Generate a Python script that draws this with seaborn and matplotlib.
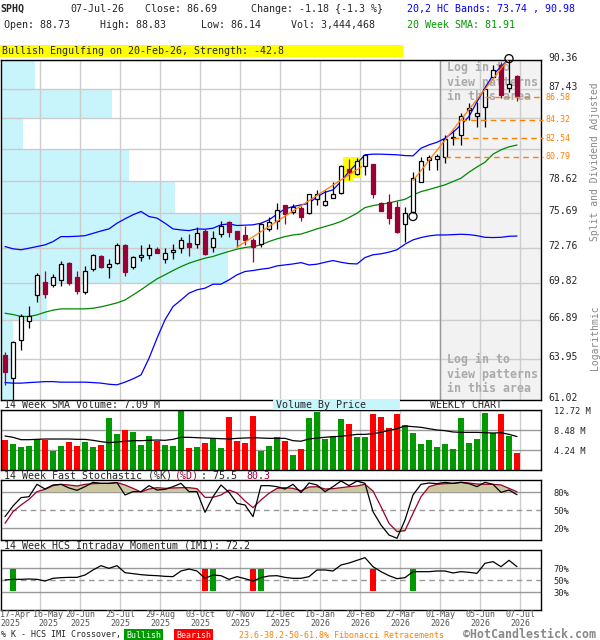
import numpy as np
import matplotlib
matplotlib.use("Agg")
import matplotlib.pyplot as plt
import matplotlib.transforms as mtransforms
from matplotlib.patches import Rectangle
from matplotlib.ticker import NullLocator
import seaborn as sns

# weekly candles, oldest first
opens = [64.28, 62.57, 65.38, 66.81, 68.89, 69.92, 69.65, 70.05, 71.49, 70.35,
         69.16, 70.97, 72.07, 71.13, 71.51, 72.99, 71.18, 71.96, 72.13, 72.68,
         71.79, 72.38, 72.71, 73.13, 73.10, 74.20, 72.83, 73.89, 74.93, 74.17,
         73.80, 73.38, 73.05, 74.32, 75.04, 76.41, 75.80, 76.14, 75.71, 76.96,
         76.47, 77.08, 77.47, 79.71, 79.20, 79.95, 80.11, 76.58, 76.72, 76.26,
         74.75, 75.80, 78.53, 80.48, 80.58, 80.74, 82.61, 82.86, 85.30, 84.71,
         85.56, 88.65, 89.84, 87.47, 88.73]
highs = [64.53, 65.33, 67.38, 68.02, 70.64, 70.83, 70.56, 71.65, 71.60, 70.83,
         71.24, 72.24, 72.16, 71.82, 73.13, 73.05, 72.07, 72.99, 73.07, 72.77,
         72.71, 73.05, 73.63, 73.89, 74.49, 74.32, 74.20, 75.04, 75.04, 74.20,
         74.64, 73.61, 74.84, 75.36, 76.61, 76.45, 76.52, 76.38, 77.44, 77.78,
         77.78, 78.53, 80.05, 80.58, 80.70, 81.02, 80.17, 76.72, 77.41, 76.81,
         76.29, 79.44, 80.83, 80.96, 81.08, 82.86, 83.35, 84.98, 86.02, 86.12,
         87.64, 89.84, 90.12, 90.46, 88.83]
lows = [62.10, 61.05, 64.61, 66.34, 68.36, 68.68, 69.51, 69.57, 69.65, 68.97,
        68.95, 70.86, 71.10, 70.29, 71.38, 70.38, 70.97, 71.63, 71.85, 72.30,
        71.46, 71.82, 72.27, 72.10, 72.71, 72.16, 72.43, 73.69, 73.69, 72.77,
        72.99, 71.60, 72.77, 74.20, 74.32, 74.81, 75.62, 74.99, 75.68, 76.44,
        76.35, 77.02, 77.40, 78.68, 79.14, 79.14, 77.02, 75.86, 74.75, 73.97,
        73.22, 75.71, 78.47, 79.58, 79.58, 80.27, 81.93, 81.87, 84.32, 83.67,
        83.67, 88.48, 86.45, 87.13, 86.14]
closes = [63.00, 65.23, 67.20, 67.20, 70.51, 69.00, 70.32, 71.38, 69.84, 69.22,
          70.81, 72.16, 71.15, 71.40, 72.99, 70.78, 71.96, 72.13, 72.71, 72.35,
          72.30, 72.55, 73.38, 72.77, 73.97, 72.19, 73.55, 74.58, 74.06, 73.47,
          73.41, 72.85, 74.75, 74.93, 75.97, 75.65, 76.29, 75.36, 77.38, 77.38,
          76.81, 77.38, 79.95, 79.38, 80.39, 80.96, 77.38, 75.94, 75.28, 74.11,
          75.77, 78.83, 80.45, 80.77, 80.89, 82.46, 82.71, 84.71, 85.47, 84.98,
          87.40, 89.33, 86.79, 87.87, 86.69]

# 20,2 HC bands and 20 week SMA
upper_band = [72.85, 72.66, 72.58, 72.71, 72.85, 72.99, 73.27, 73.69, 73.69, 73.72,
              73.77, 73.97, 74.17, 74.35, 74.84, 75.22, 75.57, 75.86, 75.42, 75.28,
              74.84, 74.35, 74.26, 74.20, 74.35, 74.32, 74.41, 74.70, 74.78, 74.64,
              74.67, 74.70, 74.84, 75.13, 75.62, 76.09, 76.29, 76.44, 76.58, 77.17,
              77.56, 77.78, 78.53, 79.44, 80.20, 80.99, 81.05, 81.05, 81.02, 80.99,
              80.92, 80.89, 81.61, 81.93, 82.17, 82.55, 83.12, 83.84, 84.65, 86.12,
              87.47, 88.82, 89.67, 90.47, 90.98]
lower_band = [62.26, 62.22, 62.22, 62.26, 62.29, 62.33, 62.33, 62.29, 62.29, 62.29,
              62.29, 62.26, 62.22, 62.14, 62.10, 62.29, 62.53, 62.81, 64.03, 65.53,
              66.94, 67.97, 68.49, 69.03, 69.30, 69.43, 69.75, 69.75, 70.10, 70.51,
              70.78, 70.86, 70.97, 71.05, 71.24, 71.32, 71.40, 71.51, 71.32, 71.38,
              71.54, 71.68, 71.54, 71.43, 71.40, 71.93, 72.16, 72.24, 72.38, 72.58,
              73.05, 73.41, 73.61, 73.75, 73.83, 73.83, 73.86, 73.89, 73.86, 73.77,
              73.63, 73.61, 73.63, 73.72, 73.74]
sma20 = [67.45, 67.35, 67.20, 67.20, 67.32, 67.53, 67.69, 67.79, 67.79, 67.79,
         67.79, 67.84, 67.95, 68.10, 68.26, 68.49, 68.89, 69.30, 69.75, 70.18,
         70.51, 70.86, 71.18, 71.46, 71.68, 71.88, 72.02, 72.24, 72.44, 72.63,
         72.77, 72.85, 72.99, 73.27, 73.50, 73.69, 73.83, 73.91, 74.12, 74.35,
         74.55, 74.75, 74.99, 75.33, 75.71, 76.20, 76.38, 76.49, 76.61, 76.78,
         76.93, 77.32, 77.62, 77.81, 78.02, 78.23, 78.53, 78.83, 79.38, 79.86,
         80.30, 81.05, 81.46, 81.74, 81.91]

# weekly volume and 14 week SMA, millions
volume = [6.36, 5.51, 4.88, 5.09, 6.50, 6.36, 4.10, 5.09, 5.94, 5.09,
          5.94, 4.88, 5.30, 11.02, 7.63, 8.48, 8.06, 5.30, 7.21, 6.22,
          5.30, 5.09, 12.58, 4.66, 4.88, 5.72, 6.78, 4.66, 11.24, 6.15,
          5.72, 11.45, 4.10, 5.09, 7.00, 6.15, 3.18, 4.45, 11.02, 12.30,
          6.64, 7.14, 10.81, 9.75, 7.00, 7.07, 11.87, 11.24, 8.90, 11.87,
          9.54, 7.84, 5.51, 6.36, 4.88, 5.51, 4.45, 11.02, 5.72, 6.57,
          12.08, 7.84, 11.87, 7.21, 3.60]
vol_sma = [7.21, 6.93, 6.43, 6.43, 6.50, 6.57, 6.57, 6.57, 6.57, 6.50,
           6.50, 6.29, 6.01, 5.80, 5.94, 6.08, 6.22, 6.22, 6.29, 6.36,
           6.29, 6.50, 6.93, 6.93, 6.85, 6.78, 6.71, 6.64, 6.57, 6.71,
           6.78, 6.85, 6.78, 6.71, 6.71, 6.71, 6.22, 6.10, 6.57, 6.78,
           6.93, 7.07, 7.14, 7.35, 7.56, 7.56, 7.70, 7.98, 8.41, 8.76,
           9.33, 9.19, 9.05, 8.76, 8.48, 8.34, 8.06, 7.98, 7.98, 7.98,
           7.91, 7.84, 7.91, 7.56, 7.09]

# 14 week fast stochastic
stoch_k = [38.9, 56.7, 70.6, 72.2, 92.8, 85.0, 91.7, 92.8, 86.7, 82.8,
           88.9, 96.1, 94.4, 94.4, 95.6, 75.0, 80.6, 80.6, 90.6, 83.3,
           84.4, 88.9, 94.4, 80.6, 80.6, 46.1, 72.2, 91.7, 79.4, 61.1,
           58.3, 38.9, 90.6, 90.6, 88.9, 85.0, 92.8, 79.0, 95.0, 91.7,
           80.6, 88.9, 98.3, 90.6, 98.3, 94.4, 47.2, 25.0, 8.3, 2.8,
           33.3, 75.0, 92.8, 95.0, 93.9, 96.1, 94.4, 96.1, 93.9, 88.9,
           96.1, 92.8, 79.4, 83.3, 75.5]
stoch_d = [27.8, 47.2, 58.3, 67.8, 80.6, 84.4, 90.6, 92.8, 91.7, 90.0,
           92.8, 93.9, 94.4, 94.4, 95.6, 91.7, 86.1, 80.0, 85.0, 87.2,
           86.1, 86.7, 87.2, 87.2, 85.6, 71.1, 71.1, 75.0, 83.3, 78.3,
           65.0, 53.9, 66.7, 77.8, 86.1, 87.2, 86.1, 82.2, 88.3, 88.9,
           85.0, 85.6, 87.2, 88.9, 90.0, 92.8, 81.7, 55.6, 27.8, 13.9,
           15.6, 44.4, 72.2, 88.9, 92.8, 93.9, 94.4, 96.1, 95.0, 93.3,
           92.8, 92.8, 91.7, 86.1, 80.3]

# 14 week HCS intraday momentum and %K / IMI crossovers
imi = [50.0, 51.1, 51.1, 51.7, 51.1, 48.3, 52.8, 53.9, 54.4, 54.4,
       58.3, 66.7, 73.9, 69.4, 73.9, 62.2, 60.6, 58.9, 57.8, 57.2,
       56.1, 55.6, 65.0, 68.3, 65.0, 52.8, 58.3, 57.2, 51.1, 55.6,
       52.2, 48.3, 53.9, 56.7, 57.2, 54.4, 52.8, 52.8, 55.6, 66.7,
       66.7, 65.0, 75.0, 78.3, 82.8, 87.2, 72.2, 63.9, 57.2, 52.2,
       53.9, 63.9, 63.9, 63.9, 65.0, 65.0, 61.7, 63.9, 62.8, 61.1,
       77.8, 80.6, 72.2, 82.8, 72.2]
imi_bull_weeks = [1, 26, 32, 51]
imi_bear_weeks = [25, 31, 46]

# volume by price, one value per price band (bottom to top)
vbp_volume = [5, 5, 19, 94, 100, 72, 53, 9, 46, 14]

price_ticks = [61.02, 63.95, 66.89, 69.82, 72.76, 75.69, 78.62, 81.56, 84.49, 87.43, 90.36]
price_labels = ["61.02", "63.95", "66.89", "69.82", "72.76", "75.69", "78.62", "", "", "87.43", "90.36"]

fib_levels = [86.58, 84.32, 82.54, 80.79]
fib_start = [60, 57, 56, 55]

trend_lines = [((29, 44.6), (72.8, 79.9)), ((51, 63), (78.6, 90.5))]
circle_weeks = [51, 63]
circle_prices = [75.42, 90.5]
engulf_weeks = [42.9, 44.05]
engulf_low = [78.50, 78.84]
engulf_high = 80.80

date_labels = ["17-Apr\n2025", "16-May\n2025", "20-Jun\n2025", "25-Jul\n2025", "29-Aug\n2025",
               "03-Oct\n2025", "07-Nov\n2025", "12-Dec\n2025", "16-Jan\n2026", "20-Feb\n2026",
               "27-Mar\n2026", "01-May\n2026", "05-Jun\n2026", "07-Jul\n2026"]

MAROON = "#990033"
GREEN = "#009900"
RED = "#ff0000"
BLUE = "#0000ff"
SMA_GREEN = "#008800"
ORANGE = "#ff8000"
CYAN = "#c8f4fb"
GRID = "#cccccc"
DARKGRID = "#999999"

sns.set_theme(style="white")
plt.rcParams["font.family"] = ["DejaVu Sans Mono"]

weeks = np.arange(len(closes))
o = np.array(opens)
c = np.array(closes)
up = c >= o
x_lim = (-0.5, 67)
date_pos = np.arange(len(date_labels)) * 5 - 0.625
zone_start = date_pos[11]

fig = plt.figure(figsize=(6, 6.4), dpi=100)


def box(x0, y0, x1, y1):
    # pixel box with top-left origin -> figure rect
    return [x0 / 600, 1 - y1 / 640, (x1 - x0) / 600, (y1 - y0) / 640]


def ftext(x, y, s, **kw):
    kw.setdefault("va", "center")
    kw.setdefault("fontsize", 7.2)
    return fig.text(x / 600, 1 - y / 640, s, **kw)


def style_panel(a):
    a.set_xlim(*x_lim)
    a.set_xticks(date_pos[1:])
    a.tick_params(axis="both", length=0, labelbottom=False)
    a.grid(axis="x", color=GRID, lw=1)
    a.set_axisbelow(True)
    a.set_xlabel("")
    a.set_ylabel("")
    for sp in a.spines.values():
        sp.set_color("black")
        sp.set_linewidth(1)
    a.yaxis.tick_right()


# ---- main price panel ----
ax_vbp = fig.add_axes(box(1, 60, 541, 400))
ax_vbp.set_yscale("log")
ax_vbp.barh(price_ticks[:-1], vbp_volume, height=np.diff(price_ticks), align="edge",
            color=CYAN, lw=0)
ax_vbp.set_ylim(price_ticks[0], price_ticks[-1])
ax_vbp.set_xlim(0, 224)
ax_vbp.axis("off")

ax = fig.add_axes(box(1, 60, 541, 400))
ax.patch.set_alpha(0)
ax.set_yscale("log")
ax.axvspan(zone_start, x_lim[1], color="#f2f2f2", lw=0, zorder=0.1)
ax.axvline(zone_start, color="#999999", lw=1, zorder=0.6)

for y0, y_txt in [(67, "Log in to"), (82, "view patterns"), (97, "in this area"),
                  (359, "Log in to"), (374, "view patterns"), (389, "in this area")]:
    ax.text(447 / 600, 1 - y0 / 640, y_txt, transform=fig.transFigure, color="#aaaaaa",
            fontsize=8.4, fontweight="bold", va="center", zorder=1)

ax.bar(engulf_weeks, np.array(engulf_high) - np.array(engulf_low), bottom=engulf_low,
       width=[1.25, 1.1], color="#ffff00", lw=0, zorder=1.5)

sns.lineplot(x=weeks, y=upper_band, ax=ax, color=BLUE, lw=0.9, zorder=2)
sns.lineplot(x=weeks, y=lower_band, ax=ax, color=BLUE, lw=0.9, zorder=2)
sns.lineplot(x=weeks, y=sma20, ax=ax, color=SMA_GREEN, lw=0.9, zorder=2)

wick_cols = ["black" if u else MAROON for u in up]
body_face = ["white" if u else MAROON for u in up]
ax.vlines(weeks, lows, highs, colors=wick_cols, lw=0.9, zorder=3)
ax.bar(weeks, np.maximum(np.abs(c - o), 0.04), bottom=np.minimum(o, c), width=0.62,
       color=body_face, edgecolor=wick_cols, lw=0.9, zorder=4)

for (tx, ty) in trend_lines:
    ax.plot(tx, ty, color=ORANGE, lw=0.9, zorder=5)
ax.scatter(circle_weeks, circle_prices, s=34, facecolors="none", edgecolors="black",
           lw=0.9, zorder=6, clip_on=False)

ax.hlines(fib_levels, fib_start, x_lim[1] + 0.3, colors=ORANGE, linestyles=(0, (4, 3)),
          lw=1, zorder=5, clip_on=False)
fib_tr = mtransforms.blended_transform_factory(ax.transAxes, ax.transData)
for lvl in fib_levels:
    ax.text(1.008, lvl, f"{lvl:.2f}", transform=fib_tr, color=ORANGE, fontsize=6,
            va="center", ha="left")

style_panel(ax)
ax.set_ylim(price_ticks[0], price_ticks[-1])
ax.set_yticks(price_ticks)
ax.yaxis.set_minor_locator(NullLocator())
ax.set_yticklabels(price_labels, fontsize=7)
ax.tick_params(axis="y", pad=5)
ax.grid(axis="y", color=GRID, lw=1)

ftext(595, 162, "Split and Dividend Adjusted", rotation=90, ha="center", color="#888888",
      fontsize=7)
ftext(595, 338, "Logarithmic", rotation=90, ha="center", color="#888888", fontsize=7)

# ---- volume panel ----
ax_vol = fig.add_axes(box(1, 410, 541, 470))
ax_vol.bar(weeks, volume, width=0.75, color=[GREEN if u else RED for u in up], lw=0, zorder=2)
sns.lineplot(x=weeks, y=vol_sma, ax=ax_vol, color="black", lw=0.9, zorder=3)
style_panel(ax_vol)
ax_vol.set_ylim(0, 12.72)
ax_vol.set_yticks([4.24, 8.48, 12.72])
ax_vol.set_yticklabels(["4.24 M", "8.48 M", "12.72 M"], fontsize=6.3)
ax_vol.tick_params(axis="y", pad=9)
ax_vol.grid(axis="y", color=DARKGRID, lw=1)

# ---- stochastic panel ----
ax_sto = fig.add_axes(box(1, 480, 541, 540))
d = np.array(stoch_d)
ax_sto.fill_between(weeks, 80, d, where=d > 80, interpolate=True, color="#ccc89e", lw=0,
                    zorder=1)
ax_sto.fill_between(weeks, 20, d, where=d < 20, interpolate=True, color="#ccc89e", lw=0,
                    zorder=1)
ax_sto.axhline(80, color=DARKGRID, lw=1, zorder=0.8)
ax_sto.axhline(20, color=DARKGRID, lw=1, zorder=0.8)
ax_sto.axhline(50, color=DARKGRID, lw=1, ls=(0, (4, 3)), zorder=0.8)
sns.lineplot(x=weeks, y=stoch_d, ax=ax_sto, color=MAROON, lw=0.9, zorder=3)
sns.lineplot(x=weeks, y=stoch_k, ax=ax_sto, color="black", lw=0.9, zorder=4)
style_panel(ax_sto)
ax_sto.set_ylim(0, 100)
ax_sto.set_yticks([20, 50, 80])
ax_sto.set_yticklabels(["20%", "50%", "80%"], fontsize=6.3)
ax_sto.tick_params(axis="y", pad=9)

# ---- IMI panel ----
ax_imi = fig.add_axes(box(1, 550, 541, 610))
ax_imi.axhline(70, color=DARKGRID, lw=1, zorder=0.8)
ax_imi.axhline(30, color=DARKGRID, lw=1, zorder=0.8)
ax_imi.axhline(50, color=DARKGRID, lw=1, ls=(0, (4, 3)), zorder=0.8)
ax_imi.bar(imi_bull_weeks, 37, bottom=31, width=0.75, color=GREEN, lw=0, zorder=2)
ax_imi.bar(imi_bear_weeks, 37, bottom=31, width=0.75, color=RED, lw=0, zorder=2)
sns.lineplot(x=weeks, y=imi, ax=ax_imi, color="black", lw=0.9, zorder=3)
style_panel(ax_imi)
ax_imi.set_ylim(0, 100)
ax_imi.set_yticks([30, 50, 70])
ax_imi.set_yticklabels(["30%", "50%", "70%"], fontsize=6.3)
ax_imi.tick_params(axis="y", pad=9)

date_tr = mtransforms.blended_transform_factory(ax_imi.transData, ax_imi.transAxes)
for i, (pos, lab) in enumerate(zip(date_pos, date_labels)):
    ha = "left" if i == 0 else "center"
    if i == 1:
        pos = pos + 1
    ax_imi.text(pos, -0.005, lab, transform=date_tr, ha=ha, va="top", fontsize=6,
                color="#555555", linespacing=0.95, clip_on=False)

# ---- header and captions ----
ftext(0, 9, "SPHQ", fontweight="bold")
ftext(70, 9, "07-Jul-26")
ftext(145, 9, "Close: 86.69")
ftext(251, 9, "Change: -1.18 {-1.3 %}")
ftext(407, 9, "20,2 HC Bands: 73.74 , 90.98", color=BLUE)
ftext(4, 25, "Open: 88.73")
ftext(100, 25, "High: 88.83")
ftext(201, 25, "Low: 86.14")
ftext(291, 25, "Vol: 3,444,468")
ftext(407, 25, "20 Week SMA: 81.91", color=GREEN)
fig.add_artist(Rectangle((0, 1 - 57 / 640), 403 / 600, 12 / 640, transform=fig.transFigure,
                         color="#ffff00", lw=0))
ftext(2, 51, "Bullish Engulfing on 20-Feb-26, Strength: -42.8")

ftext(4, 405, "14 Week SMA Volume: 7.09 M")
fig.add_artist(Rectangle((273 / 600, 1 - 410 / 640), 127 / 600, 11 / 640,
                         transform=fig.transFigure, color=CYAN, lw=0))
ftext(276, 405, "Volume By Price")
ftext(430, 405, "WEEKLY CHART")

ftext(4, 476, "14 Week Fast Stochastic (%K)")
ftext(175, 476, "(%D)", color=MAROON)
ftext(201, 476, ": 75.5")
ftext(246, 476, "80.3", color=MAROON)
ftext(4, 546, "14 Week HCS Intraday Momentum (IMI): 72.2")

ftext(1, 635, "% K - HCS IMI Crossover,", fontsize=6)
ftext(126, 635, "Bullish", fontsize=6, color="white",
      bbox=dict(boxstyle="square,pad=0.2", fc=GREEN, ec="none"))
ftext(176, 635, "Bearish", fontsize=6, color="white",
      bbox=dict(boxstyle="square,pad=0.2", fc=RED, ec="none"))
ftext(239, 635, "23.6-38.2-50-61.8% Fibonacci Retracements", fontsize=6, color=ORANGE)
ftext(463, 634, "\u00a9HotCandlestick.com", fontsize=8.4, fontweight="bold", color="#888888")

# price labels sit a few pixels above their grid lines, as on the original
lift = mtransforms.ScaledTranslation(0, 3 / 100, fig.dpi_scale_trans)
for lab in ax.get_yticklabels():
    lab.set_transform(lab.get_transform() + lift)

fig.savefig("out.png", dpi=100)
